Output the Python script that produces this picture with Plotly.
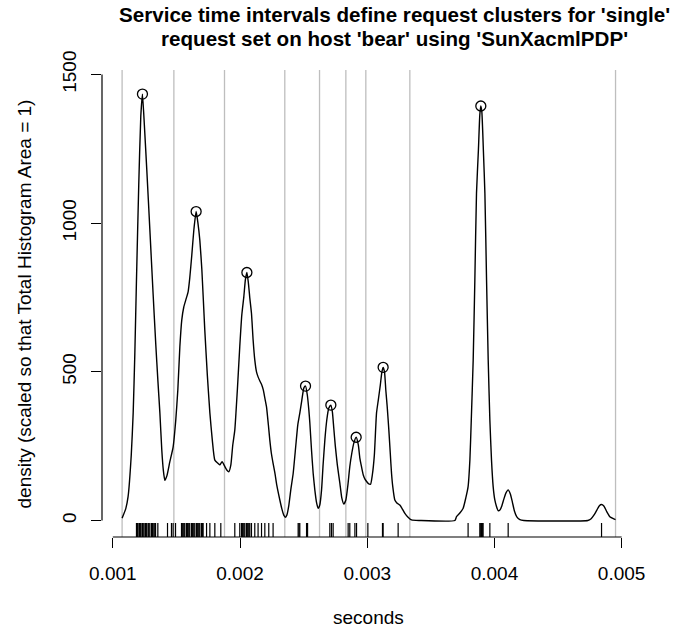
import plotly.graph_objects as go

# Kernel density curve (seconds, scaled density)
curve_x = [0.001073, 0.001102, 0.001120, 0.001145, 0.001160, 0.001173, 0.001186, 0.001204, 0.001220, 0.001233,
           0.001248, 0.001267, 0.001291, 0.001317, 0.001338, 0.001354, 0.001370, 0.001385, 0.001397, 0.001409,
           0.001425, 0.001448, 0.001474, 0.001495, 0.001511, 0.001527, 0.001542, 0.001558, 0.001574, 0.001592,
           0.001605, 0.001621, 0.001637, 0.001655, 0.001668, 0.001684, 0.001700, 0.001723, 0.001743, 0.001763,
           0.001782, 0.001802, 0.001828, 0.001841, 0.001859, 0.001881, 0.001896, 0.001912, 0.001928, 0.001943,
           0.001959, 0.001979, 0.001998, 0.002014, 0.002030, 0.002042, 0.002054, 0.002065, 0.002077, 0.002090,
           0.002103, 0.002116, 0.002130, 0.002142, 0.002156, 0.002171, 0.002183, 0.002195, 0.002208, 0.002223,
           0.002234, 0.002246, 0.002260, 0.002274, 0.002289, 0.002313, 0.002329, 0.002344, 0.002356, 0.002368,
           0.002384, 0.002399, 0.002418, 0.002439, 0.002454, 0.002470, 0.002486, 0.002502, 0.002515, 0.002529,
           0.002541, 0.002549, 0.002562, 0.002575, 0.002588, 0.002601, 0.002614, 0.002627, 0.002641, 0.002653,
           0.002667, 0.002682, 0.002698, 0.002714, 0.002726, 0.002737, 0.002749, 0.002765, 0.002785, 0.002800,
           0.002816, 0.002832, 0.002848, 0.002863, 0.002879, 0.002895, 0.002913, 0.002930, 0.002942, 0.002955,
           0.002969, 0.002981, 0.002995, 0.003009, 0.003026, 0.003040, 0.003056, 0.003073, 0.003087, 0.003103,
           0.003115, 0.003125, 0.003136, 0.003146, 0.003157, 0.003170, 0.003182, 0.003191, 0.003201, 0.003217,
           0.003233, 0.003256, 0.003272, 0.003296, 0.003319, 0.003348, 0.003414, 0.003689, 0.003702, 0.003728,
           0.003754, 0.003775, 0.003793, 0.003807, 0.003818, 0.003833, 0.003846, 0.003859, 0.003874, 0.003885,
           0.003893, 0.003901, 0.003913, 0.003925, 0.003938, 0.003951, 0.003964, 0.003977, 0.003990, 0.004003,
           0.004015, 0.004029, 0.004043, 0.004058, 0.004074, 0.004090, 0.004108, 0.004125, 0.004141, 0.004157,
           0.004176, 0.004200, 0.004231, 0.004734, 0.004758, 0.004782, 0.004805, 0.004825, 0.004842, 0.004860,
           0.004884, 0.004907, 0.004931, 0.004952]
curve_y = [8, 40, 80, 220, 361, 560, 809, 1130, 1360, 1434,
           1330, 1180, 980, 760, 590, 473, 362, 237, 170, 135,
           150, 197, 247, 338, 439, 584, 674, 718, 742, 769,
           816, 893, 977, 1039, 1004, 943, 843, 641, 489, 362,
           271, 203, 192, 187, 198, 181, 170, 164, 187, 254,
           304, 439, 585, 691, 753, 809, 834, 802, 748, 697,
           607, 540, 499, 483, 469, 456, 439, 412, 383, 321,
           271, 227, 192, 160, 119, 69, 39, 18, 11, 18,
           52, 103, 159, 254, 321, 361, 405, 446, 452, 422,
           372, 327, 237, 159, 103, 62, 41, 52, 103, 187,
           271, 338, 378, 388, 365, 311, 251, 187, 125, 76,
           55, 69, 119, 181, 227, 261, 280, 254, 210, 181,
           153, 140, 131, 124, 122, 153, 220, 361, 405, 456,
           499, 515, 499, 439, 383, 304, 220, 159, 113, 69,
           59, 52, 42, 24, 12, 2, 0, 0, 13, 25,
           41, 76, 114, 203, 338, 540, 809, 1101, 1246, 1364,
           1394, 1374, 1246, 1101, 809, 540, 338, 203, 114, 69,
           49, 33, 35, 49, 72, 92, 103, 89, 62, 32,
           12, 3, 0, 0, 5, 18, 35, 50, 54, 49,
           29, 13, 7, 3]

# Cluster peaks (open circles)
peak_x = [0.001233, 0.001655, 0.002054, 0.002515, 0.002714, 0.002913, 0.003125, 0.003893]
peak_y = [1434, 1039, 834, 452, 388, 280, 515, 1394]

# Cluster boundaries (grey vertical lines)
boundaries = [0.001073, 0.001480, 0.001878, 0.002352, 0.002625, 0.002832, 0.002989, 0.003335, 0.004952]

# Observed service times (rug)
rug_x = [0.001186, 0.001193, 0.001199, 0.001210, 0.001215, 0.001220, 0.001230, 0.001234, 0.001238, 0.001246,
         0.001257, 0.001262, 0.001267, 0.001278, 0.001283, 0.001291, 0.001304, 0.001311, 0.001317, 0.001326,
         0.001336, 0.001354, 0.001430, 0.001461, 0.001474, 0.001493, 0.001540, 0.001546, 0.001553, 0.001560,
         0.001566, 0.001579, 0.001586, 0.001592, 0.001599, 0.001605, 0.001619, 0.001625, 0.001631, 0.001638,
         0.001645, 0.001658, 0.001664, 0.001671, 0.001678, 0.001684, 0.001697, 0.001704, 0.001710, 0.001737,
         0.001763, 0.001802, 0.001849, 0.001959, 0.001998, 0.002012, 0.002018, 0.002024, 0.002031, 0.002038,
         0.002051, 0.002057, 0.002064, 0.002071, 0.002077, 0.002090, 0.002116, 0.002142, 0.002169, 0.002195,
         0.002226, 0.002260, 0.002457, 0.002464, 0.002470, 0.002523, 0.002527, 0.002531, 0.002706, 0.002719,
         0.002732, 0.002850, 0.002863, 0.002903, 0.002916, 0.003005, 0.003120, 0.003125, 0.003243, 0.003793,
         0.003885, 0.003892, 0.003899, 0.003905, 0.003911, 0.003964, 0.004108, 0.004842]

x_ticks = [0.001, 0.002, 0.003, 0.004, 0.005]
x_tick_labels = ["0.001", "0.002", "0.003", "0.004", "0.005"]
y_ticks = [0, 500, 1000, 1500]
y_tick_labels = ["0", "500", "1000", "1500"]

title_lines = ["Service time intervals define request clusters for 'single'",
               "request set on host 'bear' using 'SunXacmlPDP'"]
x_title = "seconds"
y_title = "density (scaled so that Total Histogram Area = 1)"

FONT = "Liberation Sans, Arial, Helvetica, sans-serif"

fig = go.Figure()
fig.add_trace(go.Scatter(
    x=curve_x, y=curve_y, mode="lines",
    line=dict(color="black", width=1.4, shape="spline", smoothing=0.5),
    hoverinfo="skip", showlegend=False))
fig.add_trace(go.Scatter(
    x=peak_x, y=peak_y, mode="markers",
    marker=dict(symbol="circle-open", size=10, color="black", line=dict(width=1.3)),
    hoverinfo="skip", showlegend=False))

shapes = []
for b in boundaries:
    shapes.append(dict(type="line", xref="x", yref="paper", x0=b, x1=b, y0=0, y1=1,
                       line=dict(color="#BEBEBE", width=1.3), layer="below"))
for r in rug_x:
    shapes.append(dict(type="line", xref="x", yref="paper", x0=r, x1=r, y0=0, y1=0.03,
                       line=dict(color="black", width=1.2)))
# R-style axis lines spanning first to last tick
shapes.append(dict(type="line", xref="x", yref="paper", x0=x_ticks[0], x1=x_ticks[-1], y0=0, y1=0,
                   line=dict(color="black", width=1.2)))
shapes.append(dict(type="line", xref="paper", yref="y", x0=0, x1=0, y0=y_ticks[0], y1=y_ticks[-1],
                   line=dict(color="black", width=1.2)))

fig.update_layout(
    width=690, height=631,
    margin=dict(l=102, r=55, t=70, b=94),
    paper_bgcolor="white", plot_bgcolor="white",
    font=dict(family=FONT, size=19, color="black"),
    shapes=shapes,
    xaxis=dict(range=[0.000915, 0.005105], showgrid=False, zeroline=False, showline=False,
               tickmode="array", tickvals=x_ticks, ticktext=x_tick_labels,
               ticks="outside", ticklen=10, tickwidth=1.2, tickcolor="black",
               ticklabelstandoff=9, tickfont=dict(size=19)),
    yaxis=dict(range=[-55.5, 1515], showgrid=False, zeroline=False, showline=False,
               tickmode="array", tickvals=y_ticks, ticktext=y_tick_labels,
               ticks="outside", ticklen=10, tickwidth=1.2, tickcolor="black",
               tickangle=-90, ticklabelstandoff=7, tickfont=dict(size=19)),
    annotations=[
        dict(text=title_lines[0], xref="paper", yref="paper", x=0.548, y=1.1178,
             xanchor="center", yanchor="middle", showarrow=False,
             font=dict(size=20.6, family=FONT, weight="bold")),
        dict(text=title_lines[1], xref="paper", yref="paper", x=0.548, y=1.0664,
             xanchor="center", yanchor="middle", showarrow=False,
             font=dict(size=20.6, family=FONT, weight="bold")),
        dict(text=x_title, xref="paper", yref="paper", x=0.5, y=-0.173,
             xanchor="center", yanchor="middle", showarrow=False, font=dict(size=19)),
        dict(text=y_title, xref="paper", yref="paper", x=-0.1445, y=0.5, textangle=-90,
             xanchor="center", yanchor="middle", showarrow=False, font=dict(size=19)),
    ],
)

fig.write_html("out.html")
